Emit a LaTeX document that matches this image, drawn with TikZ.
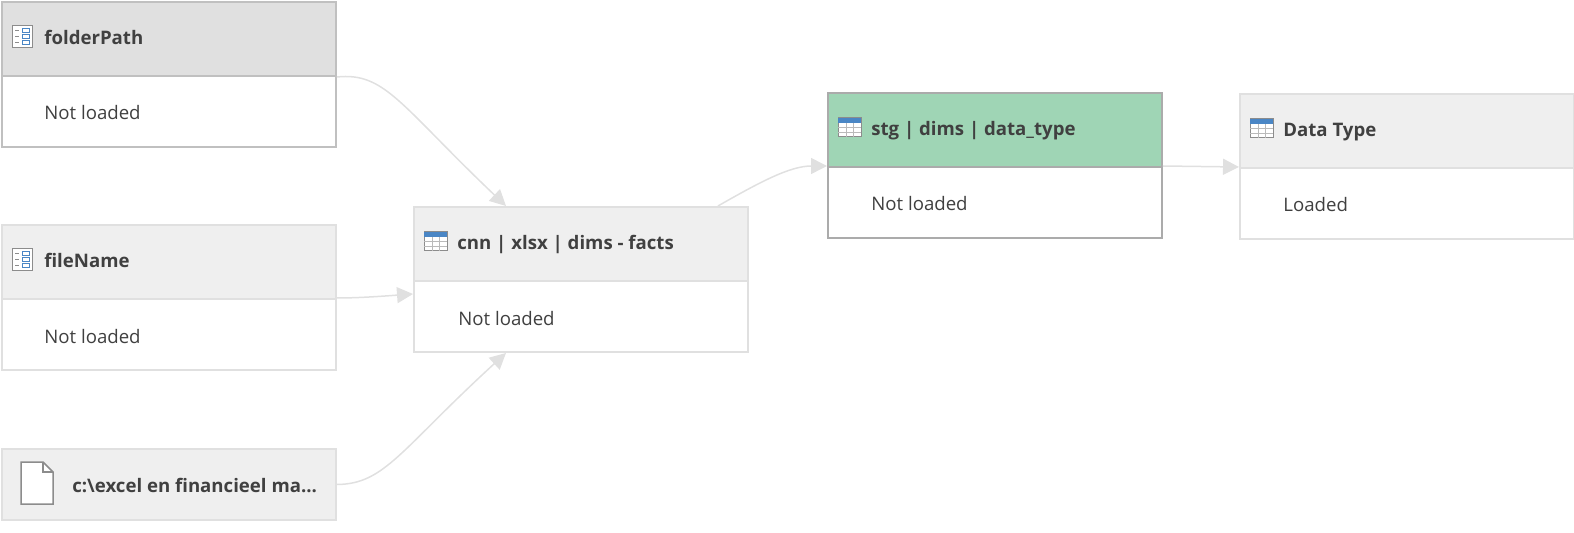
\documentclass[tikz,border=0pt]{standalone}
\usepackage{fontspec}
\setmainfont{Open Sans}
\usetikzlibrary{arrows.meta}

\definecolor{cardline}{HTML}{E0E0E0}
\definecolor{cardfill}{HTML}{EFEFEF}
\definecolor{cardtext}{HTML}{404040}
\definecolor{picked}{HTML}{C0C0C0}
\definecolor{stagefill}{HTML}{9FD5B5}
\definecolor{stageline}{HTML}{ABABAB}
\definecolor{iconblue}{HTML}{4A86C5}
\definecolor{icongrey}{HTML}{8C8C8C}

\tikzset{
	cardhead/.style={draw=cardline, fill=cardfill, line width=0.04cm, anchor=north west, minimum width=6.68cm, minimum height=1.48cm, inner sep=0pt},
	cardbody/.style={draw=cardline, fill=white, line width=0.04cm, anchor=north west, minimum width=6.68cm, minimum height=1.42cm, inner sep=0pt},
	title/.style={anchor=base west, inner sep=0pt, text=cardtext, font=\fontsize{10.6}{12}\selectfont\bfseries},
	status/.style={anchor=base west, inner sep=0pt, text=cardtext, font=\fontsize{10.6}{12}\selectfont},
	link/.style={draw=cardline, line width=0.03cm, -{Triangle[length=0.32cm, width=0.32cm, color=cardline]}},
	pics/tableicon/.style={code={
		\draw[fill=white, draw=icongrey, line width=0.02cm] (0,0) rectangle (23,19);
		\fill[iconblue] (0,0) rectangle (23,5);
		\draw[draw=icongrey!60, line width=0.02cm] (0,10) -- (23,10) (0,15) -- (23,15) (8,5) -- (8,19) (15,5) -- (15,19);
	}},
	pics/paramicon/.style={code={
		\draw[fill=white, draw=icongrey, line width=0.02cm] (0,0) rectangle (20,22);
		\draw[draw=iconblue, line width=0.02cm] (10,3) rectangle (17,7) (10,9) rectangle (17,13) (10,15) rectangle (17,19);
		\draw[draw=icongrey, line width=0.02cm] (3,5) -- (7,5) (3,11) -- (7,11) (3,17) -- (7,17);
	}},
}

\begin{document}
\begin{tikzpicture}[x=0.02cm, y=-0.02cm]
	\useasboundingbox (0,0) rectangle (1574,533);

	\node[cardhead, draw=picked, fill=cardline] (folderhead) at (1,1) {};
	\node[cardbody, draw=picked] (folderbody) at (1,75) {};
	\node[title] (foldertitle) at (44,45) {folderPath};
	\node[status] (folderstatus) at (44,120) {Not loaded};
	\pic at (12,26) {paramicon};

	\node[cardhead] (filehead) at (1,224) {};
	\node[cardbody] (filebody) at (1,298) {};
	\node[title] (filetitle) at (44,268) {fileName};
	\node[status] (filestatus) at (44,343) {Not loaded};
	\pic at (12,249) {paramicon};

	\node[cardhead, minimum height=1.42cm] (excelhead) at (1,448) {};
	\node[title] (exceltitle) at (72,492) {c:\textbackslash excel en financieel ma...};
	\draw[fill=white, draw=icongrey, line width=0.03cm] (21,462) -- (43,462) -- (53,472) -- (53,504) -- (21,504) -- cycle;
	\draw[draw=icongrey, line width=0.03cm] (43,462) -- (43,472) -- (53,472);

	\node[cardhead] (cnnhead) at (413,206) {};
	\node[cardbody] (cnnbody) at (413,280) {};
	\node[title] (cnntitle) at (457,250) {cnn | xlsx | dims - facts};
	\node[status] (cnnstatus) at (458,325) {Not loaded};
	\pic at (424,232) {tableicon};

	\node[cardhead, draw=stageline, fill=stagefill] (stghead) at (827,92) {};
	\node[cardbody, draw=stageline] (stgbody) at (827,166) {};
	\node[title] (stgtitle) at (871,136) {stg | dims | data\_type};
	\node[status] (stgstatus) at (871,211) {Not loaded};
	\pic at (838,118) {tableicon};

	\node[cardhead] (typehead) at (1239,93) {};
	\node[cardbody] (typebody) at (1239,167) {};
	\node[title] (typetitle) at (1283,137) {Data Type};
	\node[status] (typestatus) at (1283,212) {Loaded};
	\pic at (1250,119) {tableicon};

	\draw[link] (folderhead.south east) .. controls (385,72) and (400,105) .. ([xshift=1.86cm]cnnhead.north west);
	\draw[link] (filebody.north east) .. controls (360,298) and (385,296) .. ([yshift=-0.28cm]cnnbody.north west);
	\draw[link] (excelhead.east) .. controls (385,484) and (400,450) .. ([xshift=1.86cm]cnnbody.south west);
	\draw[link] ([xshift=-0.62cm]cnnhead.north east) .. controls (760,182) and (790,166) .. (stgbody.north west);
	\draw[link] (stgbody.north east) -- (typebody.north west);
\end{tikzpicture}
\end{document}
